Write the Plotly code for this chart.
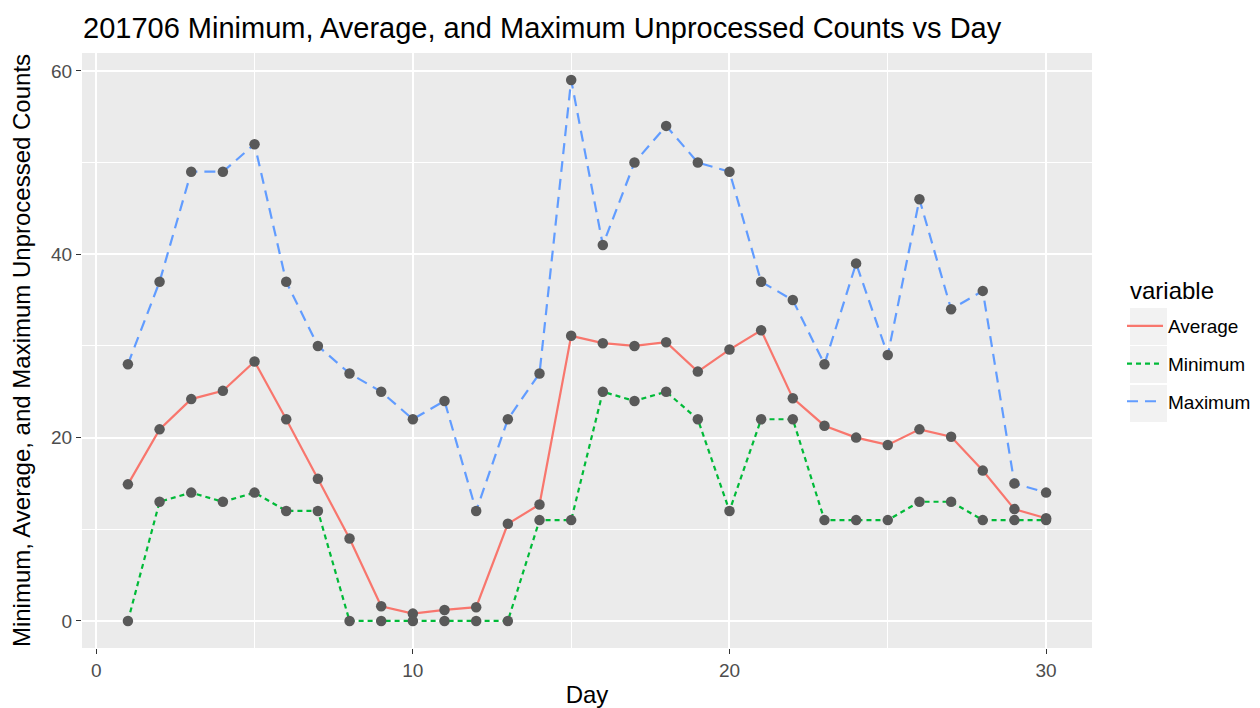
import plotly.graph_objects as go

days = list(range(1, 31))
average = [14.9, 20.9, 24.2, 25.1, 28.3, 22.0, 15.5, 9.0, 1.6, 0.8,
           1.2, 1.5, 10.6, 12.7, 31.1, 30.3, 30.0, 30.4, 27.2, 29.6,
           31.7, 24.3, 21.3, 20.0, 19.2, 20.9, 20.1, 16.4, 12.2, 11.2]
minimum = [0, 13, 14, 13, 14, 12, 12, 0, 0, 0,
           0, 0, 0, 11, 11, 25, 24, 25, 22, 12,
           22, 22, 11, 11, 11, 13, 13, 11, 11, 11]
maximum = [28, 37, 49, 49, 52, 37, 30, 27, 25, 22,
           24, 12, 22, 27, 59, 41, 50, 54, 50, 49,
           37, 35, 28, 39, 29, 46, 34, 36, 15, 14]

series_names = ["Average", "Minimum", "Maximum"]
series_values = [average, minimum, maximum]
series_colors = ["#F8766D", "#00BA38", "#619CFF"]
series_dash = ["solid", "5px,4px", "11px,7px"]

x_ticks = [0, 10, 20, 30]
y_ticks = [0, 20, 40, 60]

FONT = "Liberation Sans, Arial, Helvetica, sans-serif"

# The page body adds an 8px offset; figure is sized so that it fills the window.
W, H = 1252, 700
OFF = 8
PL, PR, PT, PB = 82 - OFF, 1092 - OFF, 53 - OFF, 648 - OFF  # plot area in figure px


def px_to_paper_x(px):
    return (px - OFF - PL) / (PR - PL)


def px_to_paper_y(py):
    return (PB - (py - OFF)) / (PB - PT)


fig = go.Figure()
for name, vals, col, dash in zip(series_names, series_values, series_colors, series_dash):
    fig.add_trace(go.Scatter(
        x=days, y=vals, mode="lines", name=name,
        line=dict(color=col, width=2.2, dash=dash),
        legendgroup=name,
    ))
for name, vals in zip(series_names, series_values):
    fig.add_trace(go.Scatter(
        x=days, y=vals, mode="markers", showlegend=False,
        marker=dict(color="#595959", size=10.5),
        hoverinfo="skip",
    ))

fig.update_layout(
    width=W, height=H,
    margin=dict(l=PL, r=W - PR, t=PT, b=H - PB, autoexpand=False),
    paper_bgcolor="white",
    plot_bgcolor="#EBEBEB",
    font=dict(family=FONT, color="black"),
    title=dict(
        text="201706 Minimum, Average, and Maximum Unprocessed Counts vs Day",
        x=(83 - OFF) / W, xanchor="left", xref="container",
        y=1 - (28 - OFF) / H, yanchor="middle", yref="container",
        font=dict(size=29, color="black", family=FONT),
    ),
    xaxis=dict(
        range=[-0.45, 31.45],
        tickvals=x_ticks, ticktext=[str(v) for v in x_ticks],
        showgrid=True, gridcolor="white", gridwidth=2.2,
        zeroline=False, showline=False, automargin=False,
        ticks="outside", ticklen=5, tickwidth=1.2, tickcolor="#333333",
        tickfont=dict(size=19, color="#4D4D4D", family=FONT),
        minor=dict(tickvals=[5, 15, 25], showgrid=True, gridcolor="white", gridwidth=1.1, ticks=""),
        title=dict(text="Day", font=dict(size=24, color="black", family=FONT), standoff=6),
    ),
    yaxis=dict(
        range=[-2.95, 61.95],
        tickvals=y_ticks, ticktext=[str(v) for v in y_ticks],
        showgrid=True, gridcolor="white", gridwidth=2.2,
        zeroline=False, showline=False, automargin=False,
        ticks="outside", ticklen=5, tickwidth=1.2, tickcolor="#333333",
        tickfont=dict(size=19, color="#4D4D4D", family=FONT),
        minor=dict(tickvals=[10, 30, 50], showgrid=True, gridcolor="white", gridwidth=1.1, ticks=""),
        title=dict(text="Minimum, Average, and Maximum Unprocessed Counts",
                   font=dict(size=24, color="black", family=FONT), standoff=16),
    ),
    legend=dict(
        x=px_to_paper_x(1122), xanchor="left", y=px_to_paper_y(307), yanchor="top",
        font=dict(size=19, color="black", family=FONT),
        bgcolor="rgba(0,0,0,0)",
        tracegroupgap=10,
        itemwidth=36,
    ),
    showlegend=True,
)

# legend title
fig.add_annotation(text="variable", xref="paper", yref="paper",
                   x=px_to_paper_x(1128), y=px_to_paper_y(290),
                   xanchor="left", yanchor="middle", showarrow=False,
                   font=dict(size=24, color="black", family=FONT))

# legend key backgrounds (ggplot style)
key_tops = [308, 346, 385]
for top in key_tops:
    fig.add_shape(type="rect", xref="paper", yref="paper",
                  x0=px_to_paper_x(1130), x1=px_to_paper_x(1167),
                  y0=px_to_paper_y(top + 37), y1=px_to_paper_y(top),
                  fillcolor="#F2F2F2", line=dict(width=0), layer="below")

fig.write_html("out.html")
